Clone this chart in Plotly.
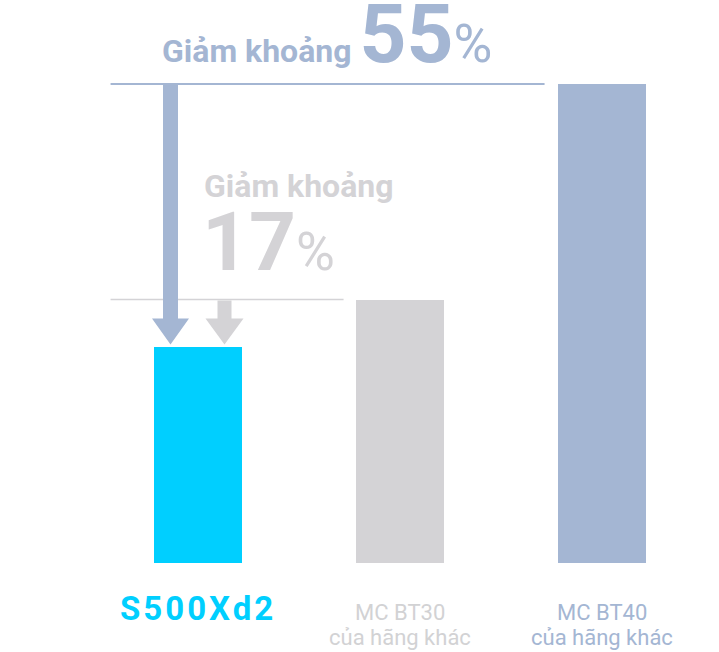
import plotly.graph_objects as go

# ---- data ----
categories = ["S500Xd2", "MC BT30", "MC BT40"]
sublabels = ["", "của hãng khác", "của hãng khác"]
values = [45, 55, 100]
reduction_vs_bt40 = "55"
reduction_vs_bt30 = "17"
reduction_prefix = "Giảm khoảng"

CYAN = "#00cfff"
GRAY = "#d4d3d6"
BLUE = "#a4b6d3"
bar_colors = [CYAN, GRAY, BLUE]
label_colors = [CYAN, "#d2d2d4", BLUE]

W, H = 719, 652
ML, MR, MT, MB = 97, 16, 36, 89
YMAX = 110
plot_w = W - ML - MR
plot_h = H - MT - MB
PX_X = plot_w / 3.0          # px per category unit
PX_Y = plot_h / YMAX         # px per value unit
BAR_W = 0.44

def dx(px):
    return px / PX_X

def dy(px):
    return px / PX_Y

fig = go.Figure()
fig.add_trace(go.Bar(
    x=list(range(len(categories))), y=values, width=BAR_W,
    marker=dict(color=bar_colors, line=dict(width=0)),
    hoverinfo="skip", showlegend=False,
))

shapes = []
# reference lines
bar0_left = 0 - BAR_W / 2
line_start = bar0_left - dx(43)
shapes.append(dict(type="line", xref="x", yref="y",
                   x0=line_start, x1=2 - BAR_W / 2 - dx(13),
                   y0=values[2], y1=values[2],
                   line=dict(color=BLUE, width=2)))
shapes.append(dict(type="line", xref="x", yref="y",
                   x0=line_start, x1=1 - BAR_W / 2 - dx(12),
                   y0=values[1], y1=values[1],
                   line=dict(color=GRAY, width=1.5)))

def arrow(cx, y_from, y_to, shaft_half_px, head_half_px, head_len_px, color):
    tip = y_to + dy(3)
    base = tip + dy(head_len_px)
    sh = dx(shaft_half_px)
    hh = dx(head_half_px)
    top = y_from - dy(1)
    path = (f"M {cx - sh} {top} L {cx + sh} {top} L {cx + sh} {base} "
            f"L {cx + hh} {base} L {cx} {tip} L {cx - hh} {base} L {cx - sh} {base} Z")
    return dict(type="path", xref="x", yref="y", path=path,
                fillcolor=color, line=dict(width=0))

shapes.append(arrow(0 - dx(27.5), values[2], values[0], 7.5, 18.5, 26, BLUE))
shapes.append(arrow(0 + dx(26.5), values[1], values[0], 7, 19, 26, GRAY))

annotations = []
# top callout
annotations.append(dict(
    x=bar0_left + dx(6), y=values[2], xref="x", yref="y",
    xanchor="left", yanchor="bottom", yshift=0, showarrow=False,
    text=(f"<b>{reduction_prefix} </b>"
          f"<span style='font-size:82px'><b>{reduction_vs_bt40}</b></span>"
          f"<span style='font-size:53px'>%</span>"),
    font=dict(family="Roboto", size=32, color=BLUE),
))
# middle callout
annotations.append(dict(
    x=bar0_left + dx(48), y=values[1], xref="x", yref="y",
    xanchor="left", yanchor="bottom", yshift=93, showarrow=False,
    text=f"<b>{reduction_prefix}</b>",
    font=dict(family="Roboto", size=32, color=GRAY),
))
annotations.append(dict(
    x=bar0_left + dx(46), y=values[1], xref="x", yref="y",
    xanchor="left", yanchor="bottom", yshift=8, showarrow=False,
    text=(f"<span style='font-size:82px'><b>{reduction_vs_bt30}</b></span>"
          f"<span style='font-size:53px'>%</span>"),
    font=dict(family="Roboto", size=32, color=GRAY),
))

# category labels
for i, (cat, sub) in enumerate(zip(categories, sublabels)):
    if i == 0:
        txt = f"<span style='letter-spacing:3px'><b>{cat}</b></span>"
        annotations.append(dict(x=i, y=0, xref="x", yref="y", xanchor="center",
                                yanchor="top", yshift=-24, showarrow=False, text=txt,
                                font=dict(family="Roboto", size=33, color=label_colors[i])))
    else:
        annotations.append(dict(x=i, y=0, xref="x", yref="y", xanchor="center",
                                yanchor="top", yshift=-35, showarrow=False, text=cat,
                                font=dict(family="Roboto", size=22, color=label_colors[i])))
        annotations.append(dict(x=i, y=0, xref="x", yref="y", xanchor="center",
                                yanchor="top", yshift=-60, showarrow=False, text=sub,
                                font=dict(family="Roboto", size=22, color=label_colors[i])))

fig.update_layout(
    width=W, height=H,
    margin=dict(l=ML, r=MR, t=MT, b=MB),
    paper_bgcolor="white", plot_bgcolor="white",
    xaxis=dict(range=[-0.5, 2.5], visible=False, fixedrange=True),
    yaxis=dict(range=[0, YMAX], visible=False, fixedrange=True),
    shapes=shapes, annotations=annotations,
    bargap=0,
)

fig.write_html("out.html",
               post_script="document.body.style.margin='0';document.body.style.overflow='hidden';",
               config={"displayModeBar": False})
